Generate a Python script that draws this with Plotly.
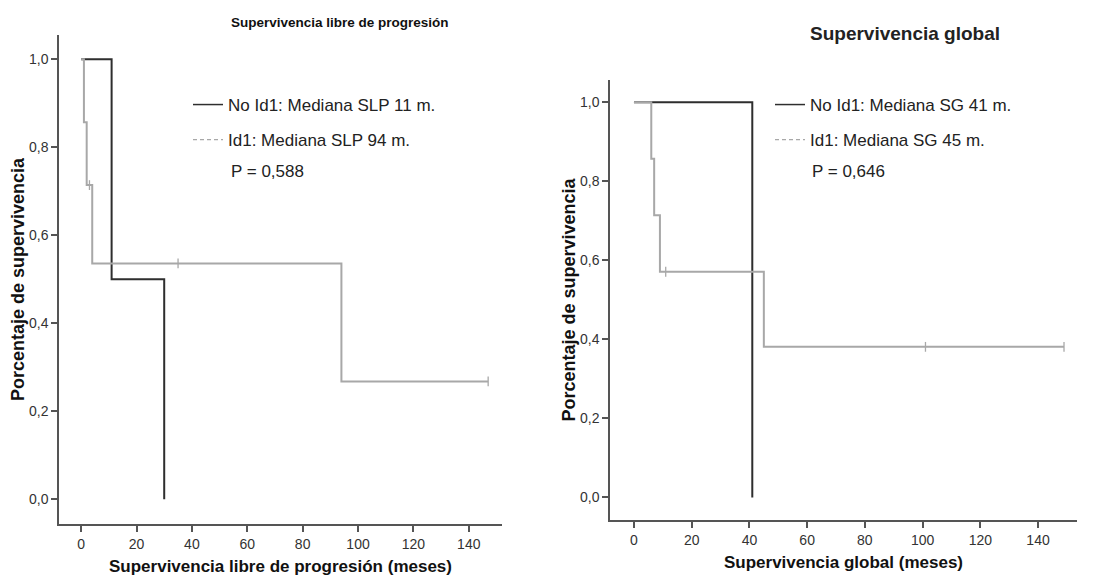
import plotly.graph_objects as go

# ---- Data ----
# Progression-free survival (SLP)
slp_noid1_t = [0, 11, 30]
slp_noid1_s = [1.0, 0.5, 0.0]
slp_id1_t = [0, 1, 2, 4, 94, 147]
slp_id1_s = [1.0, 0.857, 0.714, 0.536, 0.268, 0.268]
slp_id1_cens_t = [3, 35, 147]
slp_id1_cens_s = [0.714, 0.536, 0.268]

# Overall survival (SG)
sg_noid1_t = [0, 41]
sg_noid1_s = [1.0, 0.0]
sg_id1_t = [0, 6, 7, 9, 45, 149]
sg_id1_s = [1.0, 0.857, 0.714, 0.571, 0.381, 0.381]
sg_id1_cens_t = [11, 101, 149]
sg_id1_cens_s = [0.571, 0.381, 0.381]

y_ticks = [0.0, 0.2, 0.4, 0.6, 0.8, 1.0]
y_ticktext = ["0,0", "0,2", "0,4", "0,6", "0,8", "1,0"]
x_ticks = [0, 20, 40, 60, 80, 100, 120, 140]

legend_slp = ["No Id1: Mediana SLP 11 m.", "Id1: Mediana SLP 94 m."]
legend_sg = ["No Id1: Mediana SG 41 m.", "Id1: Mediana SG 45 m."]
p_slp = "P = 0,588"
p_sg = "P = 0,646"

DARK = "#2e2e2e"
GRAY = "#a8a8a8"
AXC = "#555555"
FONT = "Liberation Sans, Arial, sans-serif"

fig = go.Figure()

def add_panel(xa, ya, leg, t1, s1, t2, s2, ct, cs, labels):
    fig.add_trace(go.Scatter(x=t1, y=s1, mode="lines", line=dict(color=DARK, width=2, shape="hv"),
                             xaxis=xa, yaxis=ya, showlegend=False, hoverinfo="skip"))
    fig.add_trace(go.Scatter(x=t2, y=s2, mode="lines", line=dict(color=GRAY, width=2, shape="hv"),
                             xaxis=xa, yaxis=ya, showlegend=False, hoverinfo="skip"))
    fig.add_trace(go.Scatter(x=ct, y=cs, mode="markers",
                             marker=dict(symbol="line-ns", size=7, line=dict(color=GRAY, width=1.3)),
                             xaxis=xa, yaxis=ya, showlegend=False, hoverinfo="skip"))
    fig.add_trace(go.Scatter(x=[None], y=[None], mode="lines", name=labels[0],
                             line=dict(color=DARK, width=1.5), legend=leg, legendgroup=leg + "a",
                             xaxis=xa, yaxis=ya))
    fig.add_trace(go.Scatter(x=[None], y=[None], mode="lines", name=labels[1],
                             line=dict(color=GRAY, width=1.2, dash="4px,3px"), legend=leg,
                             legendgroup=leg + "b", xaxis=xa, yaxis=ya))

add_panel("x", "y", "legend", slp_noid1_t, slp_noid1_s, slp_id1_t, slp_id1_s,
          slp_id1_cens_t, slp_id1_cens_s, legend_slp)
add_panel("x2", "y2", "legend2", sg_noid1_t, sg_noid1_s, sg_id1_t, sg_id1_s,
          sg_id1_cens_t, sg_id1_cens_s, legend_sg)

W, H = 1107, 577

def xdom(a, b):
    return [a / W, b / W]

def ydom(bottom_px, top_px):
    return [1 - bottom_px / H, 1 - top_px / H]

axis_common = dict(showline=True, linecolor=AXC, linewidth=1.5, ticks="outside", ticklen=6,
                   tickcolor=AXC, tickwidth=1.5, showgrid=False, zeroline=False,
                   tickfont=dict(family=FONT, size=14, color="#333333"))

XT = dict(family=FONT, size=17, color="#111111")
YT = dict(family=FONT, size=18, color="#111111")
LF = dict(family=FONT, size=17, color="#222222")

fig.update_layout(
    width=W, height=H,
    margin=dict(l=0, r=0, t=0, b=0),
    paper_bgcolor="white", plot_bgcolor="white",
    font=dict(family=FONT, color="#111111"),
    xaxis=dict(domain=xdom(59, 502), range=[-8, 152], tickvals=x_ticks, anchor="y",
               title=dict(text="<b>Supervivencia libre de progresión (meses)</b>", font=XT, standoff=10),
               **axis_common),
    yaxis=dict(domain=ydom(524, 35), range=[-0.056, 1.055], tickvals=y_ticks, ticktext=y_ticktext,
               anchor="x",
               title=dict(text="<b>Porcentaje de supervivencia</b>", font=YT, standoff=0),
               **axis_common),
    xaxis2=dict(domain=xdom(610, 1077), range=[-8.3, 153.5], tickvals=x_ticks, anchor="y2",
                title=dict(text="<b>Supervivencia global (meses)</b>", font=XT, standoff=10),
                **axis_common),
    yaxis2=dict(domain=ydom(520, 80), range=[-0.057, 1.056], tickvals=y_ticks, ticktext=y_ticktext,
                anchor="x2",
                title=dict(text="<b>Porcentaje de supervivencia</b>", font=YT, standoff=0),
                **axis_common),
    legend=dict(x=188 / W, y=1 - 87 / H, xanchor="left", yanchor="top", font=LF,
                bgcolor="rgba(0,0,0,0)", tracegroupgap=10, itemwidth=30),
    legend2=dict(x=770 / W, y=1 - 87 / H, xanchor="left", yanchor="top", font=LF,
                 bgcolor="rgba(0,0,0,0)", tracegroupgap=10, itemwidth=30),
    annotations=[
        dict(text="<b>Supervivencia libre de progresión</b>", x=340 / W, y=1 - 23 / H,
             xref="paper", yref="paper", showarrow=False, xanchor="center", yanchor="middle",
             font=dict(family=FONT, size=13.5, color="#111111")),
        dict(text="<b>Supervivencia global</b>", x=905 / W, y=1 - 34 / H,
             xref="paper", yref="paper", showarrow=False, xanchor="center", yanchor="middle",
             font=dict(family=FONT, size=19, color="#222222")),
        dict(text=p_slp, x=229 / W, y=1 - 172 / H, xref="paper", yref="paper", showarrow=False,
             xanchor="left", yanchor="middle", font=LF),
        dict(text=p_sg, x=810 / W, y=1 - 172 / H, xref="paper", yref="paper", showarrow=False,
             xanchor="left", yanchor="middle", font=LF),
    ],
)

fig.write_html("out.html")
